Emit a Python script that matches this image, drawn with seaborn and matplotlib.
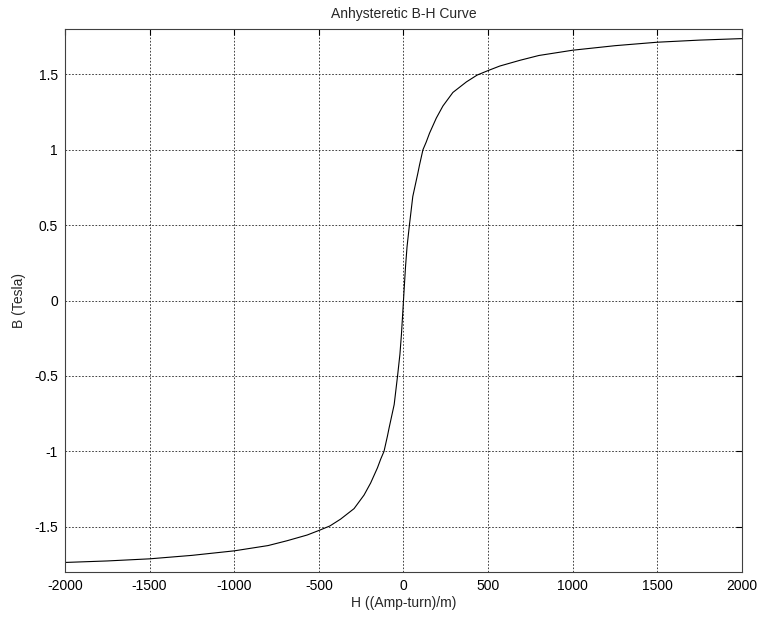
import matplotlib
matplotlib.use("Agg")
import matplotlib.pyplot as plt
import seaborn as sns
import pandas as pd

# values (the curve is point-symmetric)
h_pos = [0, 6, 12, 21, 35, 55, 85, 95, 115, 134, 154, 194, 233, 292, 372,
         435, 500, 569, 688, 800, 1000, 1250, 1500, 1750, 2000]
b_pos = [0.0, 0.113, 0.223, 0.356, 0.5, 0.69, 0.845, 0.9, 1.0, 1.05, 1.11,
         1.21, 1.29, 1.38, 1.45, 1.495, 1.525, 1.555, 1.593, 1.625, 1.66,
         1.69, 1.713, 1.727, 1.737]
h_neg = [-2000, -1750, -1500, -1250, -1000, -800, -688, -569, -500, -435,
         -372, -292, -233, -194, -154, -134, -115, -95, -85, -55, -35, -21,
         -12, -6]
b_neg = [-1.737, -1.727, -1.713, -1.69, -1.66, -1.625, -1.593, -1.555,
         -1.525, -1.495, -1.45, -1.38, -1.29, -1.21, -1.11, -1.05, -1.0,
         -0.9, -0.845, -0.69, -0.5, -0.356, -0.223, -0.113]

x_ticks = [-2000, -1500, -1000, -500, 0, 500, 1000, 1500, 2000]
y_ticks = [-1.5, -1, -0.5, 0, 0.5, 1, 1.5]
y_tick_labels = ["-1.5", "-1", "-0.5", "0", "0.5", "1", "1.5"]


def plot_bh_curve() -> None:
    sns.set_style("white")
    plt.rcParams["font.family"] = ["Liberation Sans", "DejaVu Sans"]
    plt.rcParams["font.size"] = 10

    df = pd.DataFrame({"H": h_neg + h_pos, "B": b_neg + b_pos})

    fig = plt.figure(figsize=(7.61, 6.19), dpi=100)
    ax = fig.add_axes([0.0854, 0.076, 0.8896, 0.877])
    sns.lineplot(data=df, x="H", y="B", color="black", linewidth=0.8,
                 ax=ax, sort=False)

    ax.set_xlim(-2000, 2000)
    ax.set_ylim(-1.8, 1.8)
    ax.set_xticks(x_ticks)
    ax.set_xticklabels([str(t) for t in x_ticks])
    ax.set_yticks(y_ticks)
    ax.set_yticklabels(y_tick_labels)
    ax.grid(True, color="#222222", linestyle=(0, (2, 2)), linewidth=0.6)
    ax.tick_params(direction="in", length=4, top=True, right=True,
                   labelsize=10, colors="black", pad=5)
    for s in ax.spines.values():
        s.set_color("#404040")
        s.set_linewidth(0.8)

    ax.set_title("Anhysteretic B-H Curve", fontsize=10, pad=8)
    ax.set_xlabel("H ((Amp-turn)/m)", fontsize=10, labelpad=2)
    ax.set_ylabel("B (Tesla)", fontsize=10, labelpad=6)

    fig.savefig("out.png", dpi=100)


if __name__ == "__main__":
    plot_bh_curve()
